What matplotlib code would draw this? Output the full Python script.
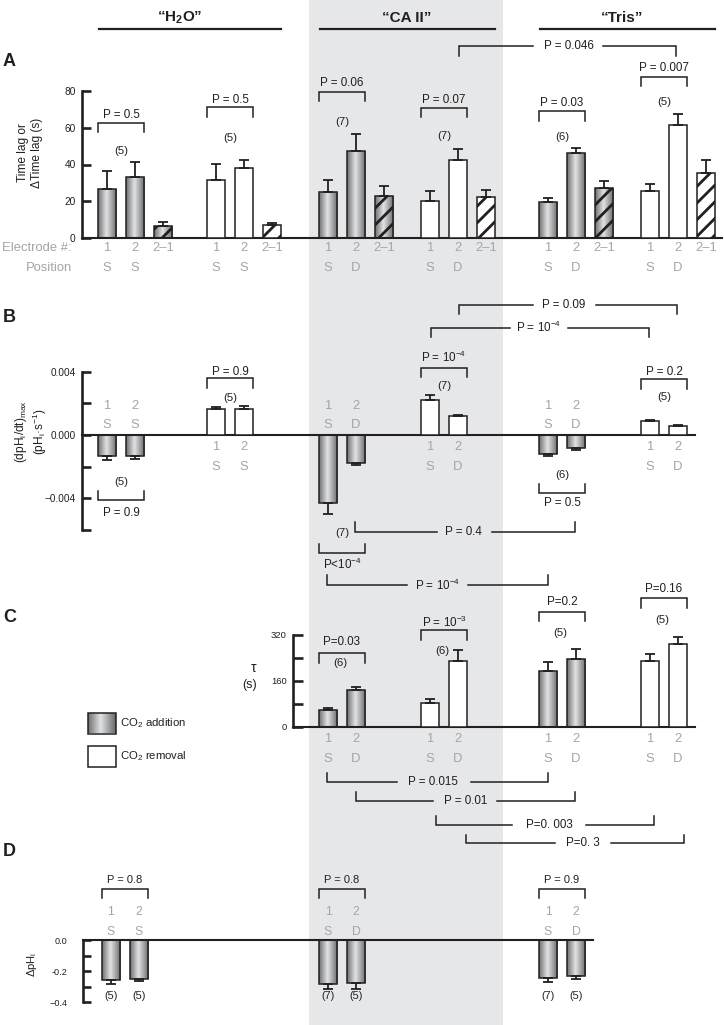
import numpy as np
import matplotlib
matplotlib.use("Agg")
import matplotlib.pyplot as plt
from matplotlib.colors import LinearSegmentedColormap
from matplotlib.patches import Rectangle

plt.rcParams['font.family'] = ['Liberation Sans', 'DejaVu Sans']
plt.rcParams['mathtext.fontset'] = 'custom'
plt.rcParams['mathtext.rm'] = 'Liberation Sans'
plt.rcParams['mathtext.it'] = 'Liberation Sans:italic'
plt.rcParams['mathtext.bf'] = 'Liberation Sans:bold'
plt.rcParams['mathtext.default'] = 'regular'
plt.rcParams['hatch.linewidth'] = 2.0

# ------------------------------------------------------------------ data
groups = ['\u201cH$_\\mathbf{2}$O\u201d', '\u201cCA II\u201d', '\u201cTris\u201d']

# Panel A: time lag (s) for electrode 1, electrode 2 and delta time lag (2-1)
lag_h2o_add = [26.7, 33.1, 6.5]
lag_h2o_add_sem = [9.8, 8.2, 2.0]
lag_h2o_rem = [31.6, 38.2, 6.9]
lag_h2o_rem_sem = [8.8, 4.5, 1.3]
lag_ca_add = [25.1, 47.6, 22.7]
lag_ca_add_sem = [6.5, 8.8, 5.7]
lag_ca_rem = [20.2, 42.5, 22.4]
lag_ca_rem_sem = [5.6, 6.2, 3.6]
lag_tris_add = [19.6, 46.4, 27.1]
lag_tris_add_sem = [2.4, 2.5, 3.8]
lag_tris_rem = [25.6, 61.3, 35.6]
lag_tris_rem_sem = [3.9, 6.2, 7.1]

# Panel B: (dpHi/dt)max (pHi/s)
rate_h2o_add = [-0.00131, -0.00133]
rate_h2o_add_sem = [0.00027, 0.00019]
rate_h2o_rem = [0.00162, 0.00162]
rate_h2o_rem_sem = [0.00015, 0.00023]
rate_ca_add = [-0.00432, -0.00179]
rate_ca_add_sem = [0.00067, 0.00010]
rate_ca_rem = [0.00221, 0.00118]
rate_ca_rem_sem = [0.00032, 0.00008]
rate_tris_add = [-0.00120, -0.00084]
rate_tris_add_sem = [0.00010, 0.00011]
rate_tris_rem = [0.00090, 0.00055]
rate_tris_rem_sem = [0.00007, 0.00006]

# Panel C: time constant tau (s)
tau_ca_add = [58, 128]
tau_ca_add_sem = [8, 12]
tau_ca_rem = [84, 229]
tau_ca_rem_sem = [14, 39]
tau_tris_add = [193, 235]
tau_tris_add_sem = [32, 35]
tau_tris_rem = [230, 290]
tau_tris_rem_sem = [23, 23]

# Panel D: delta pHi
dph_h2o = [-0.257, -0.248]
dph_h2o_sem = [0.025, 0.015]
dph_ca = [-0.284, -0.278]
dph_ca_sem = [0.030, 0.038]
dph_tris = [-0.242, -0.231]
dph_tris_sem = [0.030, 0.017]

electrode_A = ['1', '2', '2\u20131']
electrode_2 = ['1', '2']
position_h2o = ['S', 'S']
position_ca = ['S', 'D']
position_tris = ['S', 'D']

n_A = ['(5)', '(5)', '(7)', '(7)', '(6)', '(5)']
p_A = ['P = 0.5', 'P = 0.5', 'P = 0.06', 'P = 0.07', 'P = 0.03', 'P = 0.007']
n_B = ['(5)', '(5)', '(7)', '(7)', '(6)', '(5)']
p_B = ['P = 0.9', 'P = 0.9', 'P<10$^{-4}$', 'P = 10$^{-4}$', 'P = 0.5', 'P = 0.2']
n_C = ['(6)', '(6)', '(5)', '(5)']
p_C = ['P=0.03', 'P = 10$^{-3}$', 'P=0.2', 'P=0.16']
n_D = [['(5)', '(5)'], ['(7)', '(5)'], ['(7)', '(5)']]
p_D = ['P = 0.8', 'P = 0.8', 'P = 0.9']
p_long = ['P = 0.046', 'P = 0.09', 'P = 10$^{-4}$', 'P = 0.4', 'P = 10$^{-4}$',
          'P = 0.015', 'P = 0.01', 'P=0. 003', 'P=0. 3']

# ------------------------------------------------------------------ style
W, H = 724, 1025
TXT = '#231f20'
GRAY = '#a3a5a8'
EDGE = '#231f20'
BAND = '#e6e7e8'
BW = 18.5
STEP = 28
PS = 8.4      # P-value text size
NS = 8.2      # (n) text size
LS = 9.4      # electrode / position label size
X = {'h2o_add': 107, 'h2o_rem': 216, 'ca_add': 328, 'ca_rem': 430,
     'tris_add': 548, 'tris_rem': 650}
CMAP = LinearSegmentedColormap.from_list(
    'cyl', [(0, '#6f7072'), (0.45, '#e2e3e4'), (1, '#68696b')])
GRAD = np.linspace(0, 1, 64).reshape(1, -1)

fig = plt.figure(figsize=(W / 100, H / 100), dpi=100)
bg = fig.add_axes([0, 0, 1, 1], zorder=0)
bg.set_xlim(0, W)
bg.set_ylim(H, 0)
bg.set_autoscale_on(False)
bg.axis('off')
bg.axvspan(309, 503, color=BAND, zorder=0, lw=0)


def T(x, y, s, size=8, color=TXT, ha='center', va='center', **kw):
    bg.text(x, y, s, fontsize=size, color=color, ha=ha, va=va, **kw)


def bracket(x1, x2, y, leg, lw=1.1, gap=None):
    if gap is None:
        bg.plot([x1, x1, x2, x2], [y + leg, y, y, y + leg], color=EDGE, lw=lw,
                solid_joinstyle='miter')
    else:
        bg.plot([x1, x1, gap[0]], [y + leg, y, y], color=EDGE, lw=lw,
                solid_joinstyle='miter')
        bg.plot([gap[1], x2, x2], [y, y, y + leg], color=EDGE, lw=lw,
                solid_joinstyle='miter')


def panel(v0, p0, v1, p1, ptop, pbot, spine_x, spine_bounds, base_end,
          ticks, ticklabels, tsize=7.3, tlen=6.5, pad=4.5):
    s = (p1 - p0) / (v1 - v0)
    vtop = v0 + (ptop - p0) / s
    vbot = v0 + (pbot - p0) / s
    ax = fig.add_axes([0, 1 - pbot / H, 1, (pbot - ptop) / H], zorder=1)
    ax.set_xlim(0, W)
    ax.set_ylim(vbot, vtop)
    ax.set_autoscale_on(False)
    ax.patch.set_visible(False)
    ax.spines['top'].set_visible(False)
    ax.spines['right'].set_visible(False)
    ax.spines['left'].set_position(('data', spine_x))
    ax.spines['left'].set_bounds(*spine_bounds)
    ax.spines['left'].set_linewidth(1.9)
    ax.spines['left'].set_color(EDGE)
    ax.spines['bottom'].set_position(('data', 0))
    ax.spines['bottom'].set_bounds(spine_x, base_end)
    ax.spines['bottom'].set_linewidth(1.5)
    ax.spines['bottom'].set_color(EDGE)
    ax.set_xticks([])
    ax.set_yticks(ticks)
    ax.set_yticklabels(ticklabels)
    ax.tick_params(axis='y', direction='in', length=tlen, width=1.9,
                   color=EDGE, labelsize=tsize, labelcolor=TXT, pad=pad)
    return ax


def bars(ax, x0, vals, sems, kind, hatch_last=False, width=BW):
    xs = x0 + STEP * np.arange(len(vals))
    for i, (x, v, e) in enumerate(zip(xs, vals, sems)):
        hatch = '//' if (hatch_last and i == len(vals) - 1) else None
        face = 'white' if kind == 'rem' else 'none'
        p = ax.bar(x, v, width, facecolor=face, edgecolor=EDGE, linewidth=1.1,
                   hatch=hatch, zorder=3)[0]
        if kind == 'add':
            im = ax.imshow(GRAD, cmap=CMAP, aspect='auto', zorder=2,
                           interpolation='bilinear',
                           extent=(x - width / 2, x + width / 2, min(0, v), max(0, v)))
            im.set_clip_path(p)
        yerr = [[0], [e]] if v >= 0 else [[e], [0]]
        ax.errorbar(x, v, yerr=yerr, fmt='none', ecolor=EDGE, elinewidth=1.3,
                    capsize=3.6, capthick=1.3, zorder=4)
    return xs


# ------------------------------------------------------------------ headers
for name, cx, x1, x2 in [(groups[0], 180, 99, 281), (groups[1], 407, 320, 495),
                         (groups[2], 622, 540, 715)]:
    T(cx, 18, name, size=11, weight='bold')
    bg.plot([x1, x2], [29, 29], color=EDGE, lw=1.6)

for letter, y in [('A', 62), ('B', 317), ('C', 617), ('D', 852)]:
    T(3, y, letter, size=13, weight='bold', ha='left')

# ------------------------------------------------------------------ panel A
axA = panel(0, 238, 80, 91, 85, 242, 82, (0, 80), 722,
            [0, 20, 40, 60, 80], ['0', '20', '40', '60', '80'])
A_sets = [('h2o_add', lag_h2o_add, lag_h2o_add_sem, 'add', position_h2o),
          ('h2o_rem', lag_h2o_rem, lag_h2o_rem_sem, 'rem', position_h2o),
          ('ca_add', lag_ca_add, lag_ca_add_sem, 'add', position_ca),
          ('ca_rem', lag_ca_rem, lag_ca_rem_sem, 'rem', position_ca),
          ('tris_add', lag_tris_add, lag_tris_add_sem, 'add', position_tris),
          ('tris_rem', lag_tris_rem, lag_tris_rem_sem, 'rem', position_tris)]
A_brk = [(122.7, 115, 151), (107, 100, 137.7), (91.7, 83.3, 122),
         (107.7, 100, 136), (111, 103, 137), (76.7, 68, 102)]
for k, (key, vals, sems, kind, pos) in enumerate(A_sets):
    xs = bars(axA, X[key], vals, sems, kind, hatch_last=True)
    for x, lab in zip(xs, electrode_A):
        T(x, 248, lab, size=LS, color=GRAY)
    for x, lab in zip(xs, pos):
        T(x, 268, lab, size=LS, color=GRAY)
    ly, py, ny = A_brk[k]
    x1, x2 = xs[0] - BW / 2, xs[1] + BW / 2
    bracket(x1, x2, ly, 9.5)
    T((x1 + x2) / 2, py, p_A[k], size=PS)
    T((x1 + x2) / 2, ny, n_A[k], size=NS)
T(72, 248, 'Electrode #:', size=LS, color=GRAY, ha='right')
T(72, 268, 'Position', size=LS, color=GRAY, ha='right')
T(30, 153, 'Time lag or\n\u0394Time lag (s)', size=8.6, rotation=90,
  linespacing=1.15)

# ------------------------------------------------------------------ panel B
axB = panel(0, 435, 0.004, 371.7, 365, 535, 82, (-0.006, 0.004), 695,
            [-0.006, -0.004, -0.002, 0, 0.002, 0.004],
            ['', '\u22120.004', '', '0.000', '', '0.004'], tsize=7.2)
B_sets = [('h2o_add', rate_h2o_add, rate_h2o_add_sem, 'add', position_h2o),
          ('h2o_rem', rate_h2o_rem, rate_h2o_rem_sem, 'rem', position_h2o),
          ('ca_add', rate_ca_add, rate_ca_add_sem, 'add', position_ca),
          ('ca_rem', rate_ca_rem, rate_ca_rem_sem, 'rem', position_ca),
          ('tris_add', rate_tris_add, rate_tris_add_sem, 'add', position_tris),
          ('tris_rem', rate_tris_rem, rate_tris_rem_sem, 'rem', position_tris)]
# (bracket line y, leg, P y, n y)
B_brk = [(500, -9, 513, 481.7), (378, 10, 371.7, 398), (553.3, -9.3, 564, 532.7),
         (367.7, 9.3, 357.7, 386), (493, -9, 503.5, 475), (379, 10, 371.7, 397)]
for k, (key, vals, sems, kind, pos) in enumerate(B_sets):
    xs = bars(axB, X[key], vals, sems, kind)
    ny_, py_ = (406, 425.5) if kind == 'add' else (446.7, 466.7)
    for x, lab in zip(xs, electrode_2):
        T(x, ny_, lab, size=LS, color=GRAY)
    for x, lab in zip(xs, pos):
        T(x, py_, lab, size=LS, color=GRAY)
    ly, leg, py, ny = B_brk[k]
    x1, x2 = xs[0] - BW / 2, xs[1] + BW / 2
    bracket(x1, x2, ly, leg)
    T((x1 + x2) / 2, py, p_B[k], size=PS)
    T((x1 + x2) / 2, ny, n_B[k], size=NS)
T(31, 432, '(dpH$_i$/dt)$_{max}$\n(pH$_i$\u00b7s$^{-1}$)', size=8.6, rotation=90,
  linespacing=1.2)

# ------------------------------------------------------------------ panel C
axC = panel(0, 726.7, 320, 635, 630, 730, 293, (0, 320), 695,
            [0, 80, 160, 240, 320], ['0', '', '160', '', '320'], tsize=6.8, tlen=7.5)
C_sets = [('ca_add', tau_ca_add, tau_ca_add_sem, 'add', position_ca),
          ('ca_rem', tau_ca_rem, tau_ca_rem_sem, 'rem', position_ca),
          ('tris_add', tau_tris_add, tau_tris_add_sem, 'add', position_tris),
          ('tris_rem', tau_tris_rem, tau_tris_rem_sem, 'rem', position_tris)]
C_brk = [(653, 641.7, 663), (630, 622.7, 651), (611.7, 602, 632.7), (598, 589, 620)]
for k, (key, vals, sems, kind, pos) in enumerate(C_sets):
    xs = bars(axC, X[key], vals, sems, kind)
    for x, lab in zip(xs, electrode_2):
        T(x, 739, lab, size=LS, color=GRAY)
    for x, lab in zip(xs, pos):
        T(x, 759, lab, size=LS, color=GRAY)
    ly, py, ny = C_brk[k]
    x1, x2 = xs[0] - BW / 2, xs[1] + BW / 2
    bracket(x1, x2, ly, 9.7)
    T((x1 + x2) / 2, py, p_C[k], size=PS)
    T((x1 + x2) / 2 - 2, ny, n_C[k], size=NS)
T(254, 668, '\u03c4', size=10)
T(250, 685, '(s)', size=9)

# legend
for yy, kind, lab in [(713, 'add', 'CO$_2$ addition'), (746, 'rem', 'CO$_2$ removal')]:
    r = Rectangle((88, yy), 28, 20.5, facecolor='white' if kind == 'rem' else 'none',
                  edgecolor=EDGE, lw=1.1, zorder=3)
    bg.add_patch(r)
    if kind == 'add':
        im = bg.imshow(GRAD, cmap=CMAP, aspect='auto', zorder=2,
                       interpolation='bilinear', extent=(88, 116, yy + 20.5, yy))
        im.set_clip_path(r)
    T(120, yy + 10.5, lab, size=8.2, ha='left')

# ------------------------------------------------------------------ panel D
axD = panel(0, 940, -0.4, 1002.3, 934, 1008, 83, (-0.4, 0), 593,
            [-0.4, -0.3, -0.2, -0.1, 0.0], ['\u22120.4', '', '-0.2', '', '0.0'],
            tsize=6.6, tlen=6.0, pad=11)
D_sets = [(X['h2o_add'] + 4, dph_h2o, dph_h2o_sem, position_h2o),
          (X['ca_add'], dph_ca, dph_ca_sem, position_ca),
          (X['tris_add'], dph_tris, dph_tris_sem, position_tris)]
for k, (x0, vals, sems, pos) in enumerate(D_sets):
    xs = bars(axD, x0, vals, sems, 'add')
    for x, lab in zip(xs, electrode_2):
        T(x, 911.7, lab, size=8.8, color=GRAY)
    for x, lab in zip(xs, pos):
        T(x, 931.7, lab, size=8.8, color=GRAY)
    for x, lab in zip(xs, n_D[k]):
        T(x, 995.7, lab, size=7.8)
    x1, x2 = xs[0] - BW / 2, xs[1] + BW / 2
    bracket(x1, x2, 889.3, 8.5)
    T((x1 + x2) / 2, 880, p_D[k], size=8.0)
T(32, 965, '\u0394pH$_i$', size=8.0, rotation=90)

# ------------------------------------------------------------------ long comparisons
long_specs = [(459, 676, 46, 9.7, 569, (533, 603)),
              (459, 677, 305, 9, 564, (533, 596)),
              (431, 649, 327.7, 9, 539, (510, 568)),
              (355, 575, 531.7, -9.7, 463, (437, 492)),
              (327, 548, 585, -10, 438, (407, 468)),
              (327, 548, 781.7, -9, 433, (397, 471)),
              (356, 575, 801, -9, 466, (433, 497)),
              (436, 654, 825, -9, 549, (512, 586)),
              (466, 684, 843, -8, 583, (555, 611))]
for txt, (x1, x2, y, leg, tx, gap) in zip(p_long, long_specs):
    bracket(x1, x2, y, leg, gap=gap)
    T(tx, y, txt, size=PS)

fig.savefig('out.png', dpi=100)
